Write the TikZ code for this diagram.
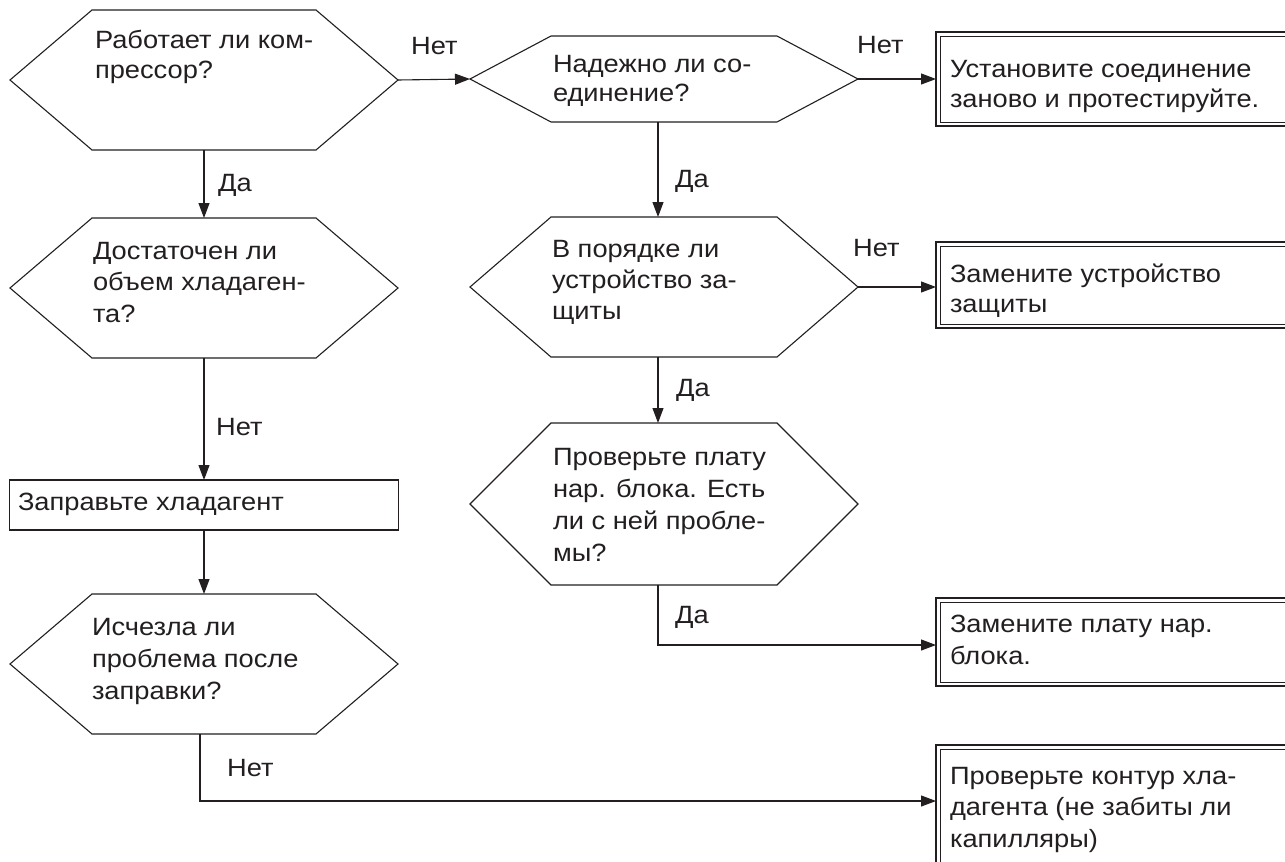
\documentclass[tikz,border=0pt]{standalone}
\usepackage{fontspec}
\setmainfont{Liberation Sans}[FakeStretch=1.09]
\usetikzlibrary{arrows.meta,calc}
\definecolor{ink}{HTML}{231F20}

% hexagonal decision box: name, centre x, centre y, width, height, inset
\newcommand\hexnode[6]{%
  \node[frame, minimum width=#4pt, minimum height=#5pt] (#1) at (#2,#3) {};
  \draw[line] ([xshift=#6pt]#1.north west) -- ([xshift=-#6pt]#1.north east)
    -- (#1.east) -- ([xshift=-#6pt]#1.south east)
    -- ([xshift=#6pt]#1.south west) -- (#1.west) -- cycle;
}
% terminal box with a double frame: name, top, bottom
\newcommand\termbox[3]{%
  \node[frame, anchor=north west, minimum width=380pt, minimum height=#3pt-#2pt,
        draw=ink, line width=1.7pt] (#1) at (936,#2) {};
  \draw[ink, line width=0.9pt] ([shift={(4pt,-4pt)}]#1.north west)
    rectangle ([shift={(-4pt,4pt)}]#1.south east);
}
% left-aligned block of lines, anchored on the first baseline
\newcommand\blocktext[5]{% name, x, first baseline, line skip, text
  \node[txt] (#1) at (#2,#3)
    {\fontsize{25}{#4}\selectfont\parbox[t]{340pt}{\raggedright #5}};
}

\begin{document}
\begin{tikzpicture}[x=1pt, y=-1pt,
  frame/.style={draw=none, inner sep=0pt, outer sep=0pt},
  line/.style={draw=ink, line width=1.1pt, line join=miter},
  arr/.style={line, -{Triangle[length=15pt, width=11pt]}},
  txt/.style={anchor=base west, inner sep=0pt, outer sep=0pt, text=ink},
  lab/.style={anchor=west, inner sep=0pt, text depth=0pt, text=ink,
              font=\fontsize{25}{28}\selectfont},
]
\useasboundingbox (0,0) rectangle (1285,862);
\clip (0,0) rectangle (1285,862);
\fill[white] (0,0) rectangle (1285,862);

% decision hexagons
\hexnode{h1}{204}{80}{388}{140}{82}
\hexnode{h2}{664}{79}{388}{86}{81}
\hexnode{h3}{664}{287}{388}{140}{81}
\hexnode{h4}{664}{504}{388}{162}{81}
\hexnode{h5}{204}{288}{388}{140}{82}
\hexnode{h6}{204}{664}{388}{140}{82}

% action box
\node[frame, draw=ink, line width=1.1pt, minimum width=389pt, minimum height=50pt]
  (r1) at (204,505) {};

% terminal boxes
\termbox{b1}{32}{126}
\termbox{b2}{242}{328}
\termbox{b3}{598}{686}
\termbox{b4}{745}{905}

% texts
\blocktext{t1}{95}{48}{30}{Работает ли ком-\\прессор?}
\blocktext{t2}{553}{72}{29.5}{Надежно ли со-\\единение?}
\blocktext{t3}{552}{257}{31}{В порядке ли\\устройство за-\\щиты}
\blocktext{t4}{553}{465}{32}{Проверьте плату\\нар. блока. Есть\\ли с ней пробле-\\мы?}
\blocktext{t5}{93}{259}{31.5}{Достаточен ли\\объем хладаген-\\та?}
\blocktext{t6}{92}{635}{32}{Исчезла ли\\проблема после\\заправки?}
\blocktext{t7}{18}{510}{30}{Заправьте хладагент}
\blocktext{t8}{950}{77}{30}{Установите соединение\\заново и протестируйте.}
\blocktext{t9}{950}{282}{30}{Замените устройство\\защиты}
\blocktext{t10}{950}{632}{32}{Замените плату нар.\\блока.}
\blocktext{t11}{950}{784}{31.5}{Проверьте контур хла-\\дагента (не забиты ли\\капилляры)}

% connectors
\coordinate (k4) at (936,801);
\draw[arr] (h1.east) -- (h2.west);
\draw[arr] (h2.east) -- (h2.east -| b1.west);
\draw[arr] (h1.south) -- (h5.north);
\draw[arr] ([xshift=-6pt]h2.south) -- ([xshift=-6pt]h3.north);
\draw[arr] (h3.east) -- (h3.east -| b2.west);
\draw[arr] ([xshift=-6pt]h3.south) -- ([xshift=-6pt]h4.north);
\draw[arr] ([xshift=-6pt]h4.south) |- ([yshift=-3pt]b3.west);
\draw[arr] (h5.south) -- (r1.north);
\draw[arr] (r1.south) -- (h6.north);
\draw[arr] ([xshift=-4pt]h6.south) |- (k4 -| b4.west);

% branch labels
\node[lab] (l1) at (411,46) {Нет};
\node[lab] (l2) at (857,45) {Нет};
\node[lab] (l3) at (218,183) {Да};
\node[lab] (l4) at (675,179) {Да};
\node[lab] (l5) at (853,248) {Нет};
\node[lab] (l6) at (676,388) {Да};
\node[lab] (l7) at (675,615) {Да};
\node[lab] (l8) at (216,427) {Нет};
\node[lab] (l9) at (227,768) {Нет};
\end{tikzpicture}
\end{document}
